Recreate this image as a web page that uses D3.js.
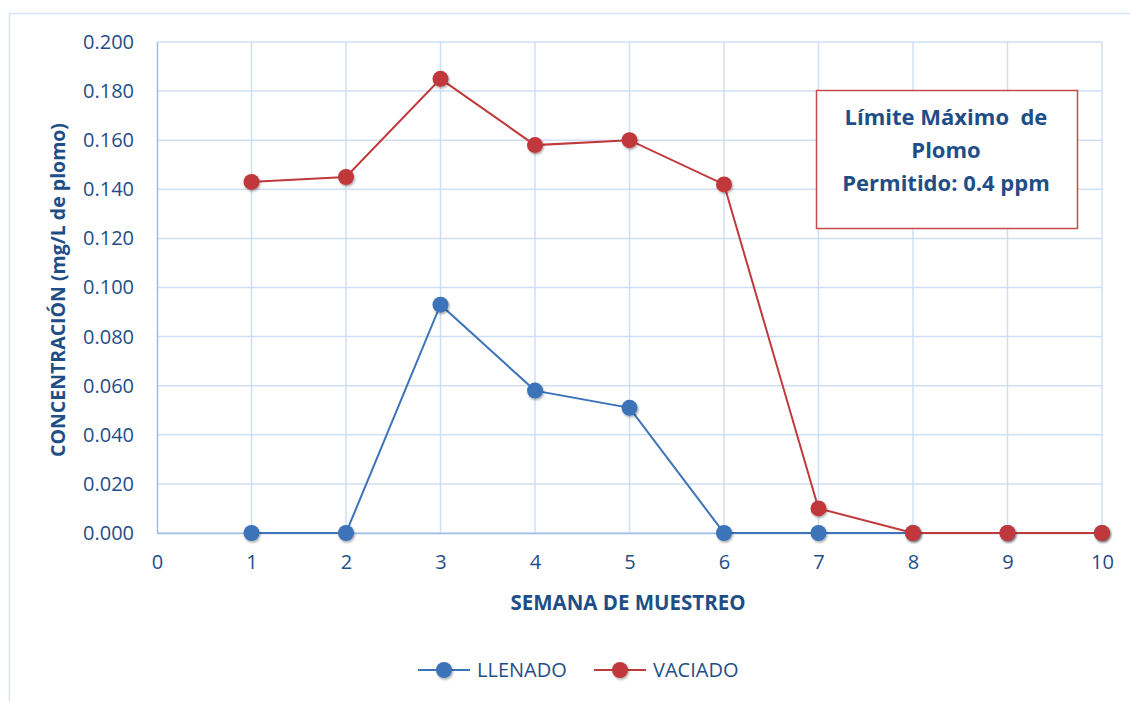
<!DOCTYPE html>
<html>
<head>
<meta charset="utf-8">
<script src="https://cdn.jsdelivr.net/npm/d3@7"></script>
<style>
  html, body { margin: 0; padding: 0; background: #fff; }
  svg text { font-family: "Open Sans", "Liberation Sans", sans-serif; }
</style>
</head>
<body>
<svg id="chart" width="1130" height="702"></svg>
<script>
// Lead concentration per sampling week
const weeks = [1, 2, 3, 4, 5, 6, 7, 8, 9, 10];
const llenado = [0, 0, 0.093, 0.058, 0.051, 0, 0, 0, 0, 0];
const vaciado = [0.143, 0.145, 0.185, 0.158, 0.160, 0.142, 0.010, 0, 0, 0];
const seriesNames = ["LLENADO", "VACIADO"];
const seriesColors = ["#3c73b9", "#c0393b"];
const xTicks = [0, 1, 2, 3, 4, 5, 6, 7, 8, 9, 10];
const yTicks = [0, 0.02, 0.04, 0.06, 0.08, 0.10, 0.12, 0.14, 0.16, 0.18, 0.20];
const noteLines = ["Límite Máximo  de", "Plomo", "Permitido: 0.4 ppm"];

const svg = d3.select("#chart");
const textColor = "#1f4e87";
const gridColor = "#cfdff3";

// outer chart frame
svg.append("rect").attr("x", 9.5).attr("y", 13.5).attr("width", 1140).attr("height", 700)
  .attr("fill", "none").attr("stroke", "#d5e2f3").attr("stroke-width", 1.5);

const x = d3.scaleLinear().domain([0, 10]).range([157, 1102]);
const y = d3.scaleLinear().domain([0, 0.2]).range([533, 42]);

// gridlines
const grid = svg.append("g");
grid.selectAll("line.h").data(yTicks).join("line")
  .attr("x1", x(0)).attr("x2", x(10))
  .attr("y1", d => y(d)).attr("y2", d => y(d))
  .attr("stroke", gridColor).attr("stroke-width", 1.5);
grid.selectAll("line.v").data(xTicks.slice(1)).join("line")
  .attr("x1", d => x(d)).attr("x2", d => x(d))
  .attr("y1", y(0.2)).attr("y2", y(0))
  .attr("stroke", gridColor).attr("stroke-width", 1.5);

// axes
const yAxis = svg.append("g").attr("transform", `translate(${x(0)},0)`)
  .call(d3.axisLeft(y).tickValues(yTicks).tickFormat(d3.format(".3f")).tickSize(0).tickPadding(23));
yAxis.select(".domain").attr("stroke", "#9dbde6").attr("stroke-width", 1.5);
yAxis.selectAll("text").attr("fill", textColor).attr("font-size", 20);

const xAxis = svg.append("g").attr("transform", `translate(0,${y(0)})`)
  .call(d3.axisBottom(x).tickValues(xTicks).tickFormat(d3.format("d")).tickSize(0).tickPadding(22));
xAxis.select(".domain").attr("stroke", "#9dbde6").attr("stroke-width", 1.5);
xAxis.selectAll("text").attr("fill", textColor).attr("font-size", 20);

// axis titles
svg.append("text").attr("x", 628).attr("y", 610).attr("text-anchor", "middle")
  .attr("fill", textColor).attr("font-size", 20.5).attr("font-weight", "bold")
  .text("SEMANA DE MUESTREO");
svg.append("text").attr("transform", "translate(65,290) rotate(-90)").attr("text-anchor", "middle")
  .attr("fill", textColor).attr("font-size", 19.5).attr("font-weight", "bold")
  .text("CONCENTRACIÓN (mg/L de plomo)");

// marker shadow
const defs = svg.append("defs");
const f = defs.append("filter").attr("id", "shadow").attr("x", "-50%").attr("y", "-50%").attr("width", "200%").attr("height", "200%");
f.append("feDropShadow").attr("dx", 1).attr("dy", 1.5).attr("stdDeviation", 1.2).attr("flood-color", "#000").attr("flood-opacity", 0.35);

const line = d3.line().x(d => x(d[0])).y(d => y(d[1]));
[llenado, vaciado].forEach((vals, i) => {
  const pts = weeks.map((w, j) => [w, vals[j]]);
  const g = svg.append("g");
  g.append("path").attr("d", line(pts)).attr("fill", "none")
    .attr("stroke", seriesColors[i]).attr("stroke-width", 2);
  g.selectAll("circle").data(pts).join("circle")
    .attr("cx", d => x(d[0])).attr("cy", d => y(d[1])).attr("r", 8)
    .attr("fill", seriesColors[i]).attr("filter", "url(#shadow)");
});

// note box
const box = svg.append("g");
box.append("rect").attr("x", 816.5).attr("y", 90.5).attr("width", 261).attr("height", 138)
  .attr("fill", "#fff").attr("stroke", "#c9494b").attr("stroke-width", 1.5);
box.selectAll("text").data(noteLines).join("text")
  .attr("x", 946).attr("y", (d, i) => 125 + i * 33).attr("text-anchor", "middle")
  .attr("fill", textColor).attr("font-size", 22).attr("font-weight", "bold")
  .attr("xml:space", "preserve")
  .text(d => d);

// legend
const legendX = [418, 594];
seriesNames.forEach((name, i) => {
  const g = svg.append("g").attr("transform", `translate(${legendX[i]},670)`);
  g.append("line").attr("x1", 0).attr("x2", 52).attr("stroke", seriesColors[i]).attr("stroke-width", 2);
  g.append("circle").attr("cx", 26).attr("r", 8).attr("fill", seriesColors[i]).attr("filter", "url(#shadow)");
  g.append("text").attr("x", 59).attr("y", 7).attr("fill", textColor).attr("font-size", 20).text(name);
});
</script>
</body>
</html>
